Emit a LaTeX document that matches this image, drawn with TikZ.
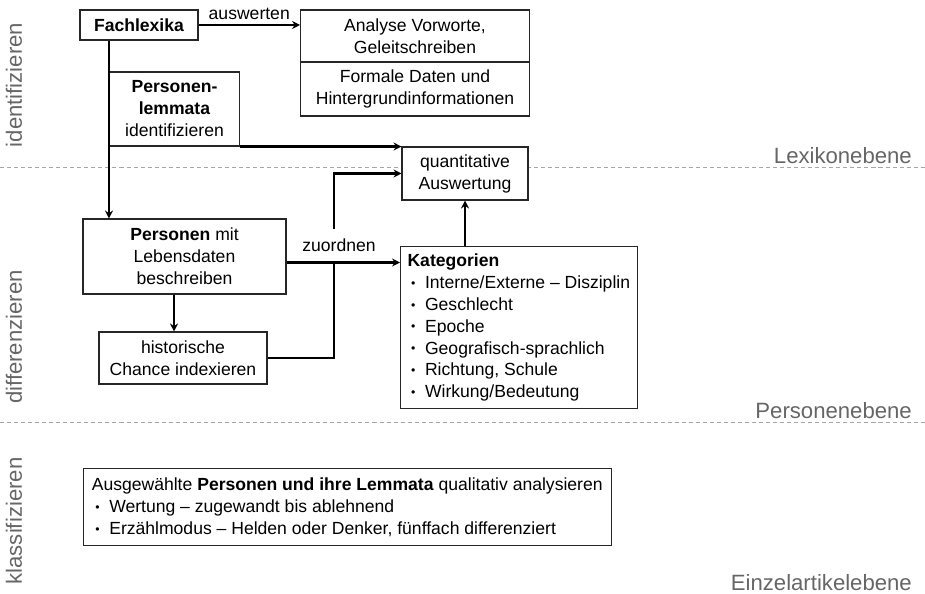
\documentclass[tikz,border=0pt]{standalone}
\usepackage{fontspec}
\setmainfont{Liberation Sans}
\usetikzlibrary{arrows.meta,calc}
\newcommand{\punkt}{\hspace*{2pt}\raisebox{0.6pt}{\fontsize{7}{7}\selectfont\textbullet}\hspace{5.5pt}}

\begin{document}
\begin{tikzpicture}[x=0.02cm, y=-0.02cm,
	kasten/.style={draw=black!85, line width=0.6pt, fill=white, inner sep=2pt, align=center, font=\fontsize{10}{12.5}\selectfont},
	pfeil/.style={line width=1.3pt, -{Stealth[length=4.5pt, width=4.5pt]}},
	ebene/.style={text=black!60, font=\fontsize{12.6}{15}\selectfont},
	trenner/.style={draw=black!35, dash pattern=on 2.3pt off 1.7pt, line width=0.5pt}]
		%%%%% START %%%%%
		\useasboundingbox (0,0) rectangle (925,594);
		
		\draw[trenner] (0,167) -- (925,167);
		\draw[trenner] (0,422) -- (925,422);
		
		\node[ebene, anchor=base east] (lexikon) at (918,164) {Lexikonebene};
		\node[ebene, anchor=base east] (personen) at (918,418) {Personenebene};
		\node[ebene, anchor=base east] (einzel) at (918,590) {Einzelartikelebene};
		
		\node[ebene, rotate=90] (identifizieren) at (14,85) {identifizieren};
		\node[ebene, rotate=90] (differenzieren) at (14,337) {differenzieren};
		\node[ebene, rotate=90] (klassifizieren) at (14,521) {klassifizieren};
		
		\node[kasten, minimum width=2.36cm, minimum height=0.6cm] (fach) at (139,25) {\textbf{Fachlexika}};
		\node[kasten, minimum width=4.58cm, minimum height=1.04cm] (analyse) at (415,36) {Analyse Vorworte,\\Geleitschreiben};
		\node[kasten, minimum width=4.58cm, minimum height=1.08cm] (formal) at (415,89) {Formale Daten und\\Hintergrundinformationen};
		\node[kasten, minimum width=2.6cm, minimum height=1.48cm] (lemma) at (174.5,109) {\textbf{Personen-}\\\textbf{lemmata}\\identifizieren};
		\node[kasten, minimum width=2.52cm, minimum height=1.06cm] (quant) at (465,173.5) {quantitative\\Auswertung};
		\node[kasten, minimum width=4.06cm, minimum height=1.5cm] (pers) at (184.5,256.5) {\textbf{Personen} mit\\Lebensdaten\\beschreiben};
		\node[kasten, minimum width=3.36cm, minimum height=1.04cm] (hist) at (183,358) {historische\\Chance indexieren};
		\node[kasten, align=left, anchor=west, inner sep=4pt, minimum height=3.22cm] (kat) at (400,327.5) {\textbf{Kategorien}\\
			\punkt Interne/Externe -- Disziplin\\
			\punkt Geschlecht\\
			\punkt Epoche\\
			\punkt Geografisch-sprachlich\\
			\punkt Richtung, Schule\\
			\punkt Wirkung/Bedeutung};
		\node[kasten, align=left, anchor=west, inner sep=5pt, minimum height=1.48cm] (qual) at (82.5,507) {Ausgewählte \textbf{Personen und ihre Lemmata} qualitativ analysieren\\
			\punkt Wertung -- zugewandt bis ablehnend\\
			\punkt Erzählmodus -- Helden oder Denker, fünffach differenziert};
		
		\draw[pfeil] (fach.east) -- (fach.east -| analyse.west) node[midway, above=-1pt, font=\fontsize{10}{12.5}\selectfont] (auswerten) {auswerten};
		\draw[pfeil] (lemma.west |- fach.south) -- (lemma.west |- pers.north);
		\draw[pfeil] (lemma.south east) -- (lemma.south east -| quant.west);
		
		\coordinate (knick) at (334,262);
		\draw[pfeil] (hist.east) -| (knick) |- (quant.west);
		\node[fill=white, inner sep=1pt, minimum height=0.66cm, font=\fontsize{10}{12.5}\selectfont] (zuordnen) at (339,245) {zuordnen};
		\draw[pfeil] ([yshift=-0.12cm]pers.east) -- ([yshift=-0.12cm]pers.east -| kat.west);
		
		\coordinate (histoben) at ([xshift=-0.18cm]hist.north);
		\draw[pfeil] (pers.south -| histoben) -- (histoben);
		\draw[pfeil] (quant.south |- kat.north) -- (quant.south);
		
		%%%%% END %%%%%
\end{tikzpicture}
\end{document}
